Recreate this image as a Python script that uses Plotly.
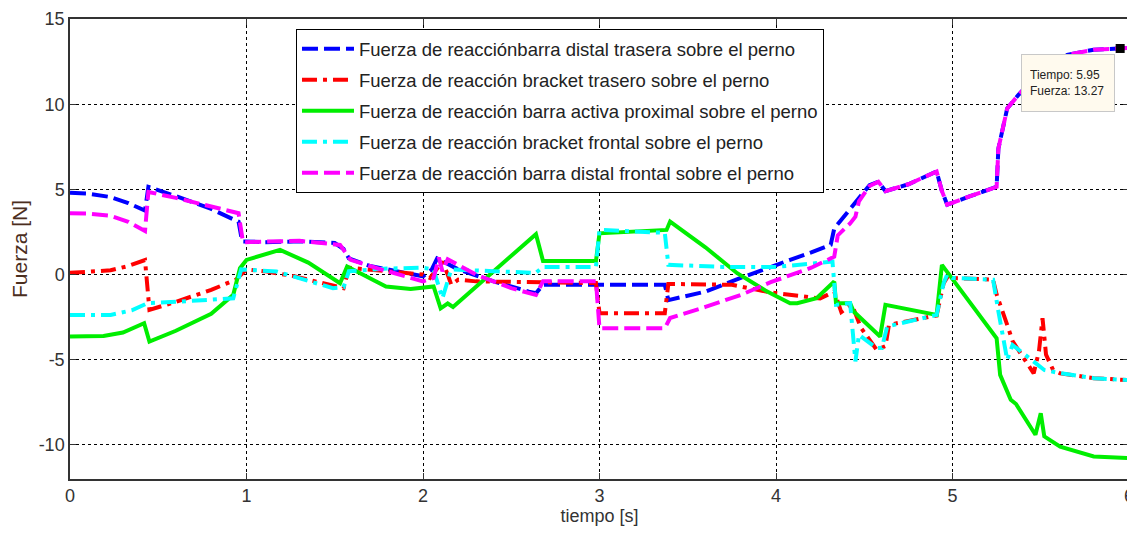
import plotly.graph_objects as go

# ---------------- data ----------------
names = [
    "Fuerza de reacciónbarra distal trasera sobre el perno",
    "Fuerza de reacción bracket trasero sobre el perno",
    "Fuerza de reacción barra activa proximal sobre el perno",
    "Fuerza de reacción bracket frontal sobre el perno",
    "Fuerza de reacción barra distal frontal sobre el perno",
]

t_blue = [0, 0.1, 0.23, 0.33, 0.425, 0.444, 0.6, 0.8, 0.955, 0.975, 1.1, 1.3, 1.5, 1.55, 1.58, 1.7, 1.85,
          2.0, 2.05, 2.08, 2.2, 2.4, 2.6, 2.64, 2.68, 3.0, 3.37, 3.39, 3.6, 3.8, 3.97, 4.08, 4.2, 4.31, 4.33,
          4.44, 4.53, 4.58, 4.62, 4.75, 4.91, 4.94, 4.97, 5.1, 5.25, 5.26, 5.28, 5.31, 5.37, 5.45, 5.55,
          5.65, 5.8, 5.91, 6.0]
v_blue = [4.8, 4.75, 4.55, 4.2, 3.75, 5.15, 4.6, 3.85, 3.1, 1.95, 1.9, 1.95, 1.85, 1.5, 0.95, 0.5, 0.2,
          -0.1, 0.3, 0.95, 0.3, -0.4, -1.0, -1.1, -0.6, -0.6, -0.6, -1.5, -1.0, -0.2, 0.47, 0.86, 1.3, 1.75, 2.7,
          4.1, 5.25, 5.45, 4.9, 5.3, 6.05, 4.9, 4.1, 4.6, 5.15, 7.4, 8.4, 9.75, 10.5, 11.4, 12.2,
          12.9, 13.2, 13.27, 13.3]

t_red = [0, 0.23, 0.33, 0.425, 0.45, 0.6, 0.8, 0.94, 1.0, 1.1, 1.27, 1.4, 1.55, 1.58, 1.7, 1.85, 2.0,
         2.04, 2.11, 2.14, 2.16, 2.2, 2.3, 2.98, 3.0, 3.37, 3.39, 3.75, 3.97, 4.25, 4.33, 4.37, 4.43, 4.48,
         4.57, 4.62, 4.64, 4.91, 4.95, 4.98, 5.0, 5.23, 5.25, 5.31, 5.34, 5.46, 5.49, 5.51, 5.53, 5.57,
         5.61, 5.8, 6.0]
v_red = [0.1, 0.25, 0.5, 0.85, -2.07, -1.6, -0.9, -0.3, 0.3, 0.2, -0.1, -0.4, -0.8, 0.4, 0.3, 0.15, 0.0,
         -0.2, 0.76, 0.0, -0.6, -0.3, -0.4, -0.5, -2.27, -2.27, -0.55, -0.6, -1.05, -1.4, -1.0, -2.2, -1.75, -3.1,
         -4.42, -4.2, -2.95, -2.4, -0.5, 0.0, -0.2, -0.3, -1.17, -2.95, -3.9, -5.8, -4.5, -2.56, -4.7, -5.6,
         -5.8, -6.08, -6.2]

t_green = [0, 0.19, 0.3, 0.42, 0.45, 0.6, 0.8, 0.925, 0.963, 1.0, 1.19, 1.35, 1.53, 1.57, 1.79, 1.93,
           2.06, 2.10, 2.14, 2.17, 2.64, 2.68, 2.98, 3.0, 3.38, 3.40, 3.6, 3.78, 3.95, 4.08, 4.12, 4.23,
           4.33, 4.34, 4.42, 4.44, 4.59, 4.62, 4.91, 4.94, 5.25, 5.27, 5.33, 5.36, 5.47, 5.50, 5.52, 5.61,
           5.8, 6.0]
v_green = [-3.64, -3.6, -3.4, -2.86, -3.93, -3.3, -2.3, -1.19, 0.37, 0.86, 1.45, 0.7, -0.51, 0.47, -0.7, -0.84,
           -0.7, -1.98, -1.7, -1.9, 2.37, 0.8, 0.8, 2.42, 2.62, 3.11, 1.6, 0.08, -1.0, -1.68, -1.68, -1.39,
           -0.41, -1.68, -1.68, -2.17, -3.64, -1.78, -2.37, 0.57, -3.74, -5.89, -7.35, -7.6, -9.4, -8.14, -9.5, -10.1,
           -10.68, -10.78]

t_cyan = [0, 0.23, 0.35, 0.44, 0.6, 0.8, 0.925, 0.97, 1.17, 1.49, 1.55, 1.58, 1.8, 2.0, 2.06, 2.11, 2.16,
          2.4, 2.64, 2.68, 2.98, 3.0, 3.37, 3.39, 3.7, 4.0, 4.32, 4.34, 4.42, 4.45, 4.47, 4.57, 4.6, 4.63,
          4.91, 4.95, 4.97, 5.0, 5.23, 5.26, 5.29, 5.31, 5.34, 5.46, 5.52, 5.61, 5.8, 6.0]
v_cyan = [-2.37, -2.37, -2.1, -1.68, -1.6, -1.5, -1.39, 0.3, 0.18, -0.8, -0.75, 0.2, 0.35, 0.4, 0.3, -1.39, 0.3,
          0.2, 0.1, 0.45, 0.45, 2.62, 2.45, 0.57, 0.45, 0.45, 0.76, -1.78, -1.68, -5.1, -3.54, -4.32, -4.3, -3.05,
          -2.37, -0.5, 0.0, -0.2, -0.3, -2.17, -3.74, -5.0, -4.13, -5.1, -5.6, -5.79, -6.08, -6.2]

t_mag = [0, 0.1, 0.23, 0.33, 0.425, 0.444, 0.6, 0.8, 0.955, 0.98, 1.3, 1.53, 1.59, 1.74, 1.96, 2.0, 2.06,
         2.09, 2.11, 2.14, 2.3, 2.5, 2.64, 2.68, 2.98, 3.0, 3.37, 3.40, 3.6, 3.8, 3.97, 4.2, 4.33, 4.35,
         4.42, 4.45, 4.47, 4.53, 4.58, 4.62, 4.75, 4.91, 4.94, 4.97, 5.1, 5.25, 5.26, 5.28, 5.31, 5.37,
         5.45, 5.55, 5.65, 5.8, 5.91, 6.0]
v_mag = [3.6, 3.58, 3.45, 3.1, 2.55, 4.85, 4.5, 4.0, 3.6, 1.9, 1.98, 1.74, 0.86, 0.37, -0.25, -0.4, -0.2,
         1.0, 0.2, 0.9, 0.0, -0.8, -1.2, -0.4, -0.4, -3.15, -3.15, -2.55, -1.9, -1.2, -0.45, 0.4, 1.05, 2.3,
         3.0, 3.4, 4.3, 5.2, 5.45, 4.9, 5.3, 6.05, 4.9, 4.1, 4.6, 5.15, 7.4, 8.4, 9.75, 10.5,
         11.4, 12.2, 12.9, 13.2, 13.27, 13.3]

colors = ["#0000ff", "#ff0000", "#00ee00", "#00ffff", "#ff00ff"]
dashes = ["16px,6px", "15px,6px,4px,6px", "solid", "15px,6px,4px,6px", "16px,6px"]

tip_t = 5.95
tip_f = 13.27
x_ticks = [0, 1, 2, 3, 4, 5, 6]
x_labels = ["0", "1", "2", "3", "4", "5", "6"]
y_ticks = [-10, -5, 0, 5, 10, 15]
y_labels = ["-10", "-5", "0", "5", "10", "15"]

# ---------------- figure ----------------
fig = go.Figure()
series = [(t_blue, v_blue), (t_red, v_red), (t_green, v_green), (t_cyan, v_cyan), (t_mag, v_mag)]
for i, (tt, vv) in enumerate(series):
    fig.add_trace(go.Scatter(
        x=tt, y=vv, mode="lines", name=names[i], legendgroup=f"g{i}",
        line=dict(color=colors[i], width=4, dash=dashes[i]),
    ))

fig.add_trace(go.Scatter(
    x=[tip_t], y=[tip_f], mode="markers", showlegend=False,
    marker=dict(symbol="square", size=9, color="black"),
))

fig.add_annotation(
    x=tip_t, y=tip_f, xref="x", yref="y",
    text=f"Tiempo: {tip_t:.2f}<br>Fuerza: {tip_f:.2f}",
    showarrow=True, arrowcolor="rgba(0,0,0,0)", ax=-52, ay=35,
    align="left", valign="middle", width=76, height=40,
    font=dict(family="Liberation Sans, Arial", size=12, color="#222"),
    bgcolor="#fffaee", bordercolor="#c8c8c8", borderwidth=1, borderpad=8,
)

axis_common = dict(
    showline=True, mirror="ticks", linecolor="#333", linewidth=1.5,
    ticks="inside", ticklen=6, tickcolor="#333",
    showgrid=True, gridcolor="black", gridwidth=1, griddash="3px,3px",
    zeroline=False, automargin=False,
    tickfont=dict(family="Liberation Sans, Arial", size=18, color="#333"),
)

# the page body adds an 8px offset, so the figure is sized to fill the rest of the window
fig.update_layout(
    width=1127, height=534,
    margin=dict(l=62, r=6, t=11, b=63),
    paper_bgcolor="white", plot_bgcolor="white",
    xaxis=dict(range=[-1e-6, 6 + 1e-6], tickvals=x_ticks, ticktext=x_labels, **axis_common,
               title=dict(text="tiempo [s]", standoff=4,
                          font=dict(family="Liberation Sans, Arial", size=18, color="#333"))),
    yaxis=dict(range=[-12, 15 + 1e-6], tickvals=y_ticks, ticktext=y_labels, **axis_common,
               title=dict(text="Fuerza [N]", standoff=10,
                          font=dict(family="Liberation Sans, Arial", size=21, color="#4b2e1e"))),
    legend=dict(
        x=0.2134, y=0.978, xanchor="left", yanchor="top",
        bgcolor="white", bordercolor="black", borderwidth=1,
        font=dict(family="Liberation Sans, Arial", size=18.5, color="#222"),
        traceorder="grouped", tracegroupgap=4, itemwidth=52,
    ),
    showlegend=True,
)

fig.write_html("out.html")
